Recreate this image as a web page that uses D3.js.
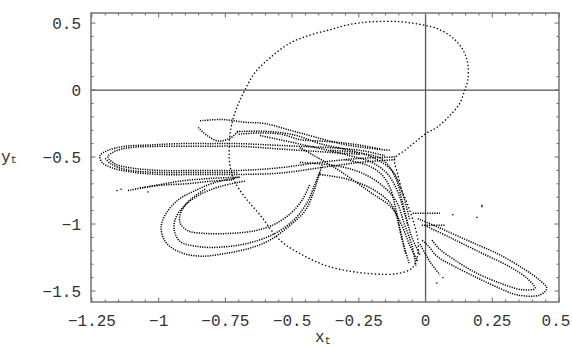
<!DOCTYPE html>
<html><head><meta charset="utf-8">
<script src="https://cdn.jsdelivr.net/npm/d3@7"></script>
<style>
html,body{margin:0;padding:0;background:#fff;}
svg{display:block;}
text{font-family:"Liberation Mono","Courier New",monospace;fill:#333;}
</style></head>
<body>
<svg id="chart" width="572" height="347"></svg>
<script>
// ---- axis ticks ----
const xTickLabels = ["−1.25","−1","−0.75","−0.5","−0.25","0","0.25","0.5"];
const xTickValues = [-1.25,-1,-0.75,-0.5,-0.25,0,0.25,0.5];
const yTickLabels = ["0.5","0","−0.5","−1","−1.5"];
const yTickValues = [0.5,0,-0.5,-1,-1.5];

// ---- attractor traces (x_t, y_t) ----
const upperLoop = [[-0.089,-0.75],[-0.066,-0.86],[-0.044,-0.99],[-0.029,-1.12],[-0.029,-1.23],[-0.051,-1.33],[-0.107,-1.37],[-0.209,-1.37],[-0.358,-1.32],[-0.471,-1.22],[-0.546,-1.12],[-0.621,-0.93],[-0.677,-0.80],[-0.718,-0.67],[-0.733,-0.56],[-0.736,-0.45],[-0.733,-0.34],[-0.722,-0.22],[-0.703,-0.11],[-0.677,0],[-0.639,0.13],[-0.583,0.24],[-0.508,0.35],[-0.433,0.41],[-0.358,0.45],[-0.284,0.49],[-0.197,0.51],[-0.096,0.51],[-0.021,0.49],[0.042,0.46],[0.102,0.39],[0.140,0.30],[0.158,0.20],[0.158,0.07],[0.147,0],[0.128,-0.10],[0.091,-0.19],[0.042,-0.28],[0.005,-0.32],[-0.040,-0.39],[-0.077,-0.45],[-0.115,-0.51],[-0.104,-0.63],[-0.089,-0.75]];
const leftOuter = [[-0.115,-0.52],[-0.246,-0.54],[-0.396,-0.58],[-0.546,-0.62],[-0.696,-0.63],[-0.845,-0.63],[-0.995,-0.63],[-1.108,-0.61],[-1.175,-0.58],[-1.212,-0.54],[-1.220,-0.49],[-1.190,-0.45],[-1.126,-0.42],[-1.033,-0.41],[-0.920,-0.40],[-0.808,-0.40],[-0.696,-0.40],[-0.583,-0.41],[-0.471,-0.42],[-0.358,-0.43],[-0.246,-0.45],[-0.152,-0.49]];
const leftInner = [[-0.115,-0.50],[-0.246,-0.51],[-0.396,-0.54],[-0.546,-0.58],[-0.696,-0.60],[-0.845,-0.60],[-0.995,-0.60],[-1.108,-0.58],[-1.164,-0.55],[-1.190,-0.50],[-1.167,-0.46],[-1.108,-0.43],[-0.995,-0.42],[-0.845,-0.42],[-0.696,-0.42],[-0.546,-0.44],[-0.396,-0.46],[-0.246,-0.48]];
const leftMid = [[-1.200,-0.51],[-1.180,-0.55],[-1.120,-0.595],[-1.000,-0.615],[-0.850,-0.615],[-0.700,-0.615]];
const thinTail = [[-1.115,-0.75],[-1.033,-0.72],[-0.920,-0.68],[-0.808,-0.66],[-0.696,-0.65]];
const thinTail2 = [[-1.070,-0.73],[-0.990,-0.71],[-0.900,-0.70],[-0.800,-0.68],[-0.720,-0.67]];
const lowOuter = [[-0.696,-0.65],[-0.789,-0.69],[-0.863,-0.75],[-0.927,-0.82],[-0.972,-0.92],[-0.991,-1.03],[-0.972,-1.14],[-0.920,-1.21],[-0.845,-1.24],[-0.751,-1.22],[-0.658,-1.18],[-0.583,-1.12],[-0.508,-1.01],[-0.451,-0.90],[-0.421,-0.77],[-0.403,-0.66],[-0.388,-0.56]];
const lowMiddle = [[-0.677,-0.68],[-0.770,-0.72],[-0.845,-0.78],[-0.901,-0.86],[-0.935,-0.95],[-0.942,-1.04],[-0.920,-1.13],[-0.845,-1.17],[-0.751,-1.17],[-0.658,-1.14],[-0.564,-1.07],[-0.489,-0.96],[-0.444,-0.84],[-0.418,-0.72],[-0.396,-0.61]];
const lowInner = [[-0.826,-0.74],[-0.883,-0.82],[-0.916,-0.91],[-0.920,-0.99],[-0.890,-1.05],[-0.826,-1.07],[-0.733,-1.07],[-0.639,-1.05],[-0.564,-1.00],[-0.500,-0.91],[-0.459,-0.81],[-0.433,-0.70]];
const funnelA = [[-0.471,-0.43],[-0.340,-0.58],[-0.209,-0.76],[-0.126,-0.88],[-0.089,-1.01],[-0.059,-1.16],[-0.029,-1.28]];
const funnelB = [[-0.620,-0.34],[-0.433,-0.42],[-0.284,-0.49],[-0.201,-0.54],[-0.141,-0.63],[-0.104,-0.76],[-0.077,-0.93],[-0.051,-1.10],[-0.021,-1.23]];
const funnelC = [[-0.471,-0.54],[-0.321,-0.57],[-0.227,-0.63],[-0.152,-0.73],[-0.107,-0.84],[-0.081,-0.99],[-0.051,-1.16],[-0.036,-1.31]];
const funnelD = [[-0.707,-0.31],[-0.583,-0.31],[-0.482,-0.34],[-0.396,-0.40],[-0.284,-0.45],[-0.190,-0.51],[-0.122,-0.61],[-0.085,-0.78],[-0.059,-0.97]];
const funnelE = [[-0.358,-0.45],[-0.246,-0.47],[-0.160,-0.52],[-0.111,-0.66],[-0.089,-0.82],[-0.066,-1.01]];
const funnelF = [[-0.396,-0.63],[-0.284,-0.67],[-0.190,-0.75],[-0.126,-0.86],[-0.096,-1.04],[-0.074,-1.23]];
const funnelG = [[-0.300,-0.52],[-0.220,-0.56],[-0.170,-0.62],[-0.135,-0.72],[-0.110,-0.90],[-0.090,-1.10],[-0.060,-1.30]];
const topLoops = [[-0.845,-0.23],[-0.763,-0.22],[-0.677,-0.24],[-0.602,-0.25],[-0.508,-0.30],[-0.415,-0.35],[-0.321,-0.40],[-0.227,-0.43],[-0.134,-0.45]];
const topLoops2 = [[-0.700,-0.33],[-0.620,-0.32],[-0.540,-0.33],[-0.470,-0.37],[-0.400,-0.38],[-0.330,-0.39],[-0.250,-0.41],[-0.170,-0.44]];
const topV = [[-0.852,-0.28],[-0.818,-0.34],[-0.777,-0.38],[-0.733,-0.36],[-0.703,-0.31]];
const rightOuter = [[-0.029,-0.96],[0.054,-1.03],[0.166,-1.13],[0.278,-1.23],[0.372,-1.34],[0.428,-1.42],[0.454,-1.48],[0.428,-1.53],[0.346,-1.53],[0.278,-1.48],[0.192,-1.40],[0.102,-1.31],[0.042,-1.24],[0.009,-1.16],[-0.014,-1.12]];
const rightInner = [[-0.003,-1.01],[0.091,-1.10],[0.203,-1.21],[0.316,-1.32],[0.383,-1.41],[0.410,-1.48],[0.361,-1.49],[0.278,-1.44],[0.185,-1.36],[0.110,-1.27],[0.054,-1.19],[0.024,-1.12]];
const shortA = [[-0.048,-0.92],[0.054,-0.92]];
const shortB = [[-0.014,-1.01],[0.072,-1.01]];
const shortC = [[-0.021,-1.15],[0.016,-1.28],[0.054,-1.38]];
const strayPoints = [[-1.156,-0.75],[-1.141,-0.74],[-1.040,-0.76],[0.211,-0.86],[0.211,-0.87],[0.192,-0.95],[0.065,-1.40],[0.042,-1.44],[0.102,-0.93]];

const traces = [upperLoop,leftOuter,leftInner,leftMid,thinTail,thinTail2,lowOuter,lowMiddle,lowInner,funnelA,funnelB,funnelC,funnelD,funnelE,funnelF,funnelG,topLoops,topLoops2,topV,rightOuter,rightInner,shortA,shortB,shortC];

// ---- layout ----
const svg = d3.select("#chart");
const L=91, R=559, T=13, B=302;
const x = d3.scaleLinear().domain([-1.2535,0.5]).range([L,R]);
const y = d3.scaleLinear().domain([-1.582,0.575]).range([B,T]);

const frameColor="#6a6a6a";
svg.append("line").attr("x1",L).attr("x2",R).attr("y1",y(0)).attr("y2",y(0)).attr("stroke","#555").attr("stroke-width",1.3);
svg.append("line").attr("x1",x(0)).attr("x2",x(0)).attr("y1",T).attr("y2",B).attr("stroke","#555").attr("stroke-width",1.3);

const line = d3.line().x(d=>x(d[0])).y(d=>y(d[1])).curve(d3.curveCatmullRom.alpha(0.5));
const g = svg.append("g");
traces.forEach((t,i)=>{
  g.append("path").attr("d",line(t)).attr("fill","none")
   .attr("stroke","#000").attr("stroke-width", i===0?1.3:1.5)
   .attr("stroke-dasharray", i===0?"1.4 2.2":"1.2 1.2");
});
g.selectAll("rect.pt").data(strayPoints).enter().append("rect")
  .attr("x",d=>x(d[0])-0.6).attr("y",d=>y(d[1])-0.6).attr("width",1.3).attr("height",1.3).attr("fill","#000");

svg.append("rect").attr("x",L).attr("y",T).attr("width",R-L).attr("height",B-T)
  .attr("fill","none").attr("stroke",frameColor).attr("stroke-width",1.4);

const xMinor = d3.range(-1.25,0.5001,0.05);
const yMinor = d3.range(-1.5,0.5001,0.1);
const tk = svg.append("g").attr("stroke",frameColor).attr("stroke-width",1);
xMinor.forEach(v=>{
  const major = xTickValues.some(m=>Math.abs(m-v)<1e-6);
  const len = major?4.5:2.5;
  tk.append("line").attr("x1",x(v)).attr("x2",x(v)).attr("y1",B).attr("y2",B-len);
  tk.append("line").attr("x1",x(v)).attr("x2",x(v)).attr("y1",T).attr("y2",T+len);
});
yMinor.forEach(v=>{
  const major = yTickValues.some(m=>Math.abs(m-v)<1e-6);
  const len = major?4.5:2.5;
  tk.append("line").attr("y1",y(v)).attr("y2",y(v)).attr("x1",L).attr("x2",L+len);
  tk.append("line").attr("y1",y(v)).attr("y2",y(v)).attr("x1",R).attr("x2",R-len);
});

xTickValues.forEach((v,i)=>{
  svg.append("text").attr("x",x(v)-(i===xTickValues.length-1?3:0)).attr("y",326).attr("text-anchor","middle")
    .attr("font-size",16).text(xTickLabels[i]);
});
yTickValues.forEach((v,i)=>{
  svg.append("text").attr("x",81).attr("y",y(v)+6).attr("text-anchor","end")
    .attr("font-size",16).text(yTickLabels[i]);
});
const xl = svg.append("text").attr("x",315).attr("y",342).attr("font-size",16);
xl.append("tspan").text("x");
xl.append("tspan").attr("font-size",11).attr("dy",2).text("t");
const yl = svg.append("text").attr("x",1).attr("y",162).attr("font-size",16);
yl.append("tspan").text("y");
yl.append("tspan").attr("font-size",11).attr("dy",1).text("t");
</script>
</body></html>
